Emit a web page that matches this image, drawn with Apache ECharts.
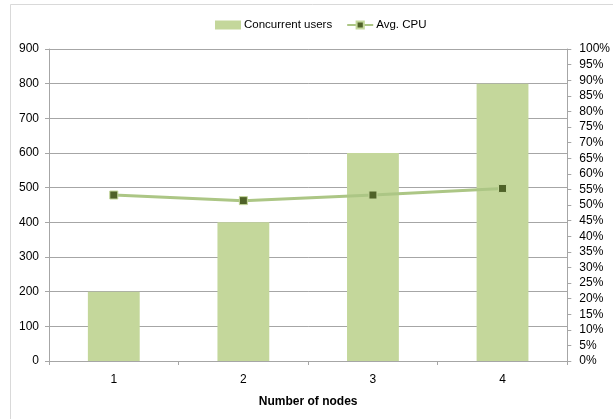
<!DOCTYPE html>
<html>
<head>
<meta charset="utf-8">
<script src="https://cdn.jsdelivr.net/npm/echarts@6/dist/echarts.min.js"></script>
<style>
  html, body { margin: 0; padding: 0; background: #fff; }
  #chart { width: 613px; height: 419px; }
</style>
</head>
<body>
<div id="chart"></div>
<script>
// Scaling test: concurrent users and average CPU per cluster size
const nodes = ['1', '2', '3', '4'];
const concurrentUsers = [200, 400, 600, 800];
const avgCpu = [0.532, 0.514, 0.532, 0.553];

const FONT = '"Liberation Sans", Arial, sans-serif';
const chart = echarts.init(document.getElementById('chart'), null, { renderer: 'canvas' });

chart.setOption({
  animation: false,
  backgroundColor: '#ffffff',
  textStyle: { fontFamily: FONT },
  graphic: [{
    type: 'rect',
    shape: { x: 10.5, y: 4.5, width: 700, height: 500 },
    style: { fill: 'none', stroke: '#d9d9d9', lineWidth: 1 },
    silent: true
  }],
  legend: {
    top: 14,
    left: 210,
    itemGap: 14,
    itemWidth: 26,
    itemHeight: 9,
    textStyle: { fontSize: 11.5, color: '#000', fontFamily: FONT, padding: [0, 0, 0, -2] },
    data: [
      { name: 'Concurrent users', icon: 'rect' },
      { name: 'Avg. CPU' }
    ]
  },
  grid: { left: 49, right: 44, top: 49, bottom: 58, containLabel: false },
  xAxis: {
    type: 'category',
    data: nodes,
    name: 'Number of nodes',
    nameLocation: 'middle',
    nameGap: 35,
    nameTextStyle: { fontSize: 12, fontWeight: 'bold', color: '#000', fontFamily: FONT },
    axisLine: { lineStyle: { color: '#a6a6a6', width: 1 } },
    axisTick: { show: true, alignWithLabel: false, length: 4, lineStyle: { color: '#a6a6a6' } },
    axisLabel: { fontSize: 12, color: '#000', margin: 13 }
  },
  yAxis: [{
    type: 'value',
    min: 0, max: 900, interval: 100,
    axisLine: { show: true, lineStyle: { color: '#a6a6a6' } },
    axisTick: { show: true, length: 4, lineStyle: { color: '#a6a6a6' } },
    axisLabel: { fontSize: 12, color: '#000', margin: 10 },
    splitLine: { show: true, lineStyle: { color: '#a6a6a6', width: 1 } }
  }, {
    type: 'value',
    min: 0, max: 1, interval: 0.05,
    position: 'right',
    axisLine: { show: true, lineStyle: { color: '#a6a6a6' } },
    axisTick: { show: true, length: 4, lineStyle: { color: '#a6a6a6' } },
    axisLabel: {
      fontSize: 12, color: '#000', margin: 12,
      formatter: v => Math.round(v * 100) + '%'
    },
    splitLine: { show: false }
  }],
  series: [{
    name: 'Concurrent users',
    type: 'bar',
    data: concurrentUsers,
    barWidth: '40%',
    itemStyle: { color: '#c4d79b' }
  }, {
    name: 'Avg. CPU',
    type: 'line',
    yAxisIndex: 1,
    data: avgCpu,
    symbol: 'rect',
    symbolSize: 8,
    lineStyle: { color: '#acc685', width: 3 },
    itemStyle: { color: '#4f6228', borderColor: '#c4d79b', borderWidth: 1 }
  }]
});
</script>
</body>
</html>
